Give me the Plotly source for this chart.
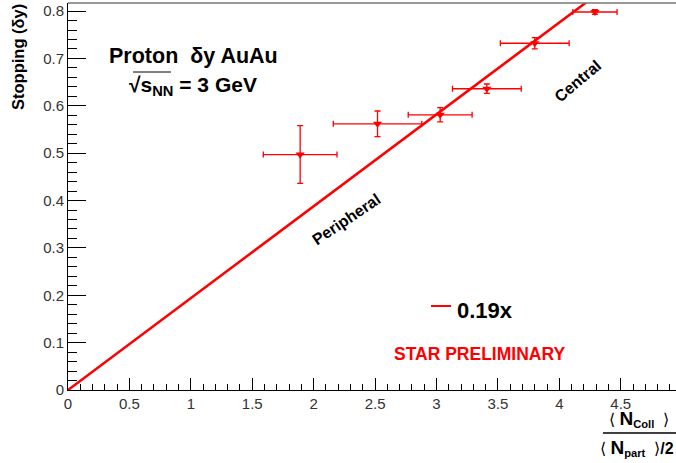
import plotly.graph_objects as go

# Data
x_vals = [1.89, 2.52, 3.03, 3.41, 3.80, 4.29]
y_vals = [0.497, 0.562, 0.581, 0.636, 0.732, 0.798]
x_err = [0.30, 0.36, 0.26, 0.28, 0.28, 0.18]
y_err = [0.061, 0.027, 0.015, 0.010, 0.012, 0.005]

fit_x = [0.0, 4.3]
fit_y = [0.0, 0.834]

RED = "#ff0000"
FONT = "Liberation Sans, Arial, sans-serif"

fig = go.Figure()
fig.add_trace(go.Scatter(
    x=fit_x, y=fit_y, mode="lines",
    line=dict(color=RED, width=2.5), showlegend=False, hoverinfo="skip"))
fig.add_trace(go.Scatter(
    x=x_vals, y=y_vals, mode="markers",
    marker=dict(symbol="triangle-down", size=8, color=RED),
    error_x=dict(type="data", array=x_err, color=RED, thickness=1.3, width=3),
    error_y=dict(type="data", array=y_err, color=RED, thickness=1.3, width=3),
    showlegend=False))

fig.update_layout(
    width=676, height=463,
    margin=dict(l=68, r=0, t=3, b=73),
    paper_bgcolor="white", plot_bgcolor="white",
    font=dict(family=FONT, color="#222"),
    xaxis=dict(range=[0, 4.95], dtick=0.5, tick0=0, ticks="inside", ticklen=12,
               tickcolor="black", showline=True, linecolor="black", linewidth=1,
               showgrid=False, zeroline=False, tickfont=dict(size=15, color="#333"),
               minor=dict(dtick=0.1, ticks="inside", ticklen=6, tickcolor="black", showgrid=False)),
    yaxis=dict(range=[0, 0.817], dtick=0.1, tick0=0, ticks="inside", ticklen=18,
               tickcolor="black", showline=True, linecolor="black", linewidth=1,
               showgrid=False, zeroline=False, tickfont=dict(size=15, color="#333"),
               minor=dict(dtick=0.02, ticks="inside", ticklen=9, tickcolor="black", showgrid=False)),
)

ann = []
def A(text, x, y, size, color="black", angle=0, bold=True, xanchor="center", yanchor="middle"):
    ann.append(dict(text=("<b>%s</b>" % text) if bold else text, x=x, y=y, xref="paper", yref="paper",
                    showarrow=False, textangle=angle, xanchor=xanchor, yanchor=yanchor,
                    font=dict(family=FONT, size=size, color=color)))

def px(x): return (x - 68) / 608
def py(y): return (390 - y) / 387

BIGN = "<span style='font-size:19px'><b>N</b></span>"
A("Proton  δy AuAu", px(193), py(56), 21.5)
A("√s<sub>NN</sub> = 3 GeV", px(193), py(86), 21)
A("Peripheral", px(346), py(219), 16, angle=-34)
A("Central", px(577), py(81), 16, angle=-40)
A("0.19x", px(485), py(310), 22)
A("STAR PRELIMINARY", px(479), py(354), 17.5, color=RED)
A("Stopping (δy)", px(18), py(57), 16.5, angle=-90)
A("⟨ " + BIGN + "<sub><b>Coll</b></sub>  ⟩", px(639), py(419), 16, bold=False)
A("⟨ " + BIGN + "<sub><b>part</b></sub>  ⟩<b>/2</b>", px(676), py(448), 16, bold=False, xanchor="right")
fig.update_layout(annotations=ann)

shapes = [
    dict(type="line", xref="paper", yref="paper", x0=px(431), x1=px(451), y0=py(306), y1=py(306),
         line=dict(color=RED, width=2)),
    dict(type="line", xref="paper", yref="paper", x0=px(603), x1=px(676), y0=py(433), y1=py(433),
         line=dict(color="black", width=1.5)),
    dict(type="line", xref="paper", yref="paper", x0=0, x1=1, y0=1, y1=1,
         line=dict(color="#777", width=1.5)),
    dict(type="line", xref="paper", yref="paper", x0=px(133), x1=px(171), y0=py(72), y1=py(72),
         line=dict(color="black", width=1)),
]
fig.update_layout(shapes=shapes)

fig.write_html("out.html", config={"displayModeBar": False},
               post_script="document.body.style.margin='0';")
